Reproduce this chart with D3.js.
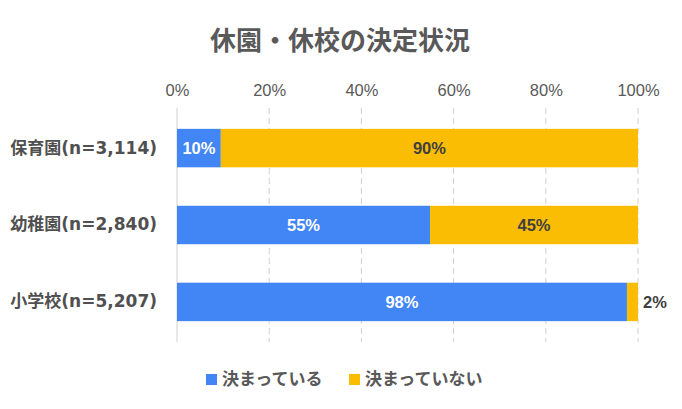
<!DOCTYPE html>
<html><head><meta charset="utf-8">
<script src="https://cdn.jsdelivr.net/npm/d3@7"></script>
<style>body{margin:0;background:#fff}</style>
</head><body><svg id="c" width="682" height="409"></svg>
<script>
const categories = ["保育園(n=3,114)", "幼稚園(n=2,840)", "小学校(n=5,207)"];
const seriesNames = ["決まっている", "決まっていない"];
const decided = [9.5, 54.9, 97.6];
const undecided = [90.5, 45.1, 2.4];
const labelsDecided = ["10%", "55%", "98%"];
const labelsUndecided = ["90%", "45%", "2%"];
const tickValues = [0, 20, 40, 60, 80, 100];
const colors = ["#4285F4", "#FBBC04"];

const svg = d3.select("#c");
const jp = "'Noto Sans CJK JP', 'Noto Sans', sans-serif";
const catFont = "'DejaVu Sans', 'Noto Sans CJK JP', sans-serif";
const num = "'Liberation Sans', Arial, sans-serif";

const x = d3.scaleLinear().domain([0, 100]).range([177, 638]);
const y = d3.scaleBand().domain(categories).range([110, 340]).paddingInner(0.5).paddingOuter(0.245);

svg.append("text").attr("x", 340).attr("y", 50).attr("text-anchor", "middle")
  .attr("font-family", jp).attr("font-weight", "bold").attr("font-size", 26).attr("fill", "#595959")
  .text("休園・休校の決定状況");

// grid
const grid = svg.append("g");
grid.selectAll("line").data(tickValues).join("line")
  .attr("x1", d => x(d)).attr("x2", d => x(d)).attr("y1", 108).attr("y2", 342)
  .attr("stroke", "#d0d0d0").attr("stroke-width", 1)
  .attr("stroke-dasharray", d => d === 0 ? null : "6,4");

// top axis
const ax = svg.append("g").attr("transform", "translate(0,96)")
  .call(d3.axisTop(x).tickValues(tickValues).tickFormat(d => d + "%").tickSize(0).tickPadding(0));
ax.select(".domain").remove();
ax.selectAll("text").attr("dy", "0").attr("font-family", num).attr("font-size", 16.5).attr("fill", "#595959");

// category labels
const ay = svg.append("g").attr("transform", "translate(157,0)")
  .call(d3.axisLeft(y).tickSize(0).tickPadding(0));
ay.select(".domain").remove();
ay.selectAll("text").attr("font-family", catFont).attr("font-weight", "bold").attr("font-size", 17).attr("fill", "#505050");

const rows = categories.map((c, i) => ({c, a: decided[i], b: undecided[i], la: labelsDecided[i], lb: labelsUndecided[i]}));
const g = svg.append("g");
g.selectAll("rect.a").data(rows).join("rect").attr("class", "a")
  .attr("x", x(0)).attr("y", d => y(d.c)).attr("width", d => x(d.a) - x(0)).attr("height", y.bandwidth())
  .attr("fill", colors[0]);
g.selectAll("rect.b").data(rows).join("rect").attr("class", "b")
  .attr("x", d => x(d.a)).attr("y", d => y(d.c)).attr("width", d => x(d.a + d.b) - x(d.a)).attr("height", y.bandwidth())
  .attr("fill", colors[1]);

g.selectAll("text.a").data(rows).join("text").attr("class", "a")
  .attr("x", d => (x(0) + x(d.a)) / 2).attr("y", d => y(d.c) + y.bandwidth() / 2).attr("dy", "0.36em")
  .attr("text-anchor", "middle").attr("font-family", num).attr("font-weight", "bold").attr("font-size", 16.5)
  .attr("fill", "#fff").text(d => d.la);
g.selectAll("text.b").data(rows).join("text").attr("class", "b")
  .attr("x", d => d.b < 5 ? x(100) + 5 : (x(d.a) + x(100)) / 2)
  .attr("y", d => y(d.c) + y.bandwidth() / 2).attr("dy", "0.36em")
  .attr("text-anchor", d => d.b < 5 ? "start" : "middle")
  .attr("font-family", num).attr("font-weight", "bold").attr("font-size", 16.5)
  .attr("fill", "#404040").text(d => d.lb);

// legend
const legX = [206, 349];
const lg = svg.append("g");
seriesNames.forEach((s, i) => {
  lg.append("rect").attr("x", legX[i]).attr("y", 374).attr("width", 11).attr("height", 11).attr("fill", colors[i]);
  lg.append("text").attr("x", legX[i] + 16).attr("y", 379).attr("dy", "0.36em")
    .attr("font-family", jp).attr("font-weight", "bold").attr("font-size", 17).attr("fill", "#595959").text(s);
});
</script></body></html>
